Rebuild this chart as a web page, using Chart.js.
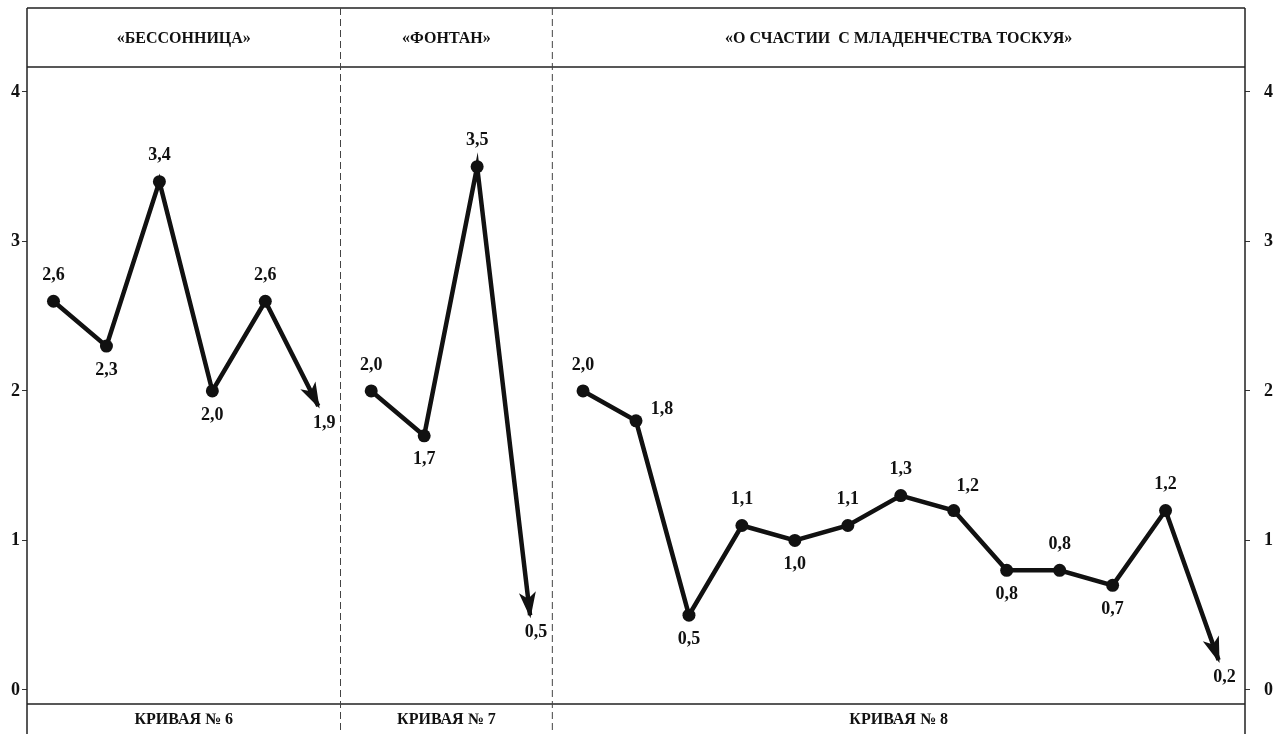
<!DOCTYPE html>
<html>
<head>
<meta charset="utf-8">
<script src="https://cdn.jsdelivr.net/npm/chart.js@4"></script>
<style>
  body { margin: 0; background: #fff; }
  #wrap { width: 1278px; height: 734px; }
</style>
</head>
<body>
<div id="wrap"><canvas id="curves" width="1278" height="734"></canvas></div>
<script>
// values
var curve6 = [2.6, 2.3, 3.4, 2.0, 2.6, 1.9];
var curve7 = [2.0, 1.7, 3.5, 0.5];
var curve8 = [2.0, 1.8, 0.5, 1.1, 1.0, 1.1, 1.3, 1.2, 0.8, 0.8, 0.7, 1.2, 0.2];
var titles = ['«БЕССОННИЦА»', '«ФОНТАН»', '«О СЧАСТИИ  С МЛАДЕНЧЕСТВА ТОСКУЯ»'];
var footers = ['КРИВАЯ № 6', 'КРИВАЯ № 7', 'КРИВАЯ № 8'];
var yTicks = [0, 1, 2, 3, 4];
// where each value label sits: a = above, b = below, r = right, ar = above right, t = arrow tip
var place6 = ['a', 'b', 'a', 'b', 'a', 't'];
var place7 = ['a', 'b', 'a', 't'];
var place8 = ['a', 'r', 'b', 'a', 'b', 'a', 'a', 'ar', 'b', 'a', 'b', 'a', 't'];

var curves = [curve6, curve7, curve8];
var places = [place6, place7, place8];

// one category slot per reading, the three curves side by side
var categories = [];
var starts = [];
curves.forEach(function (c, i) {
  starts.push(categories.length);
  c.forEach(function (v, j) { categories.push((i + 6) + '-' + (j + 1)); });
});

var datasets = curves.map(function (c, i) {
  var data = categories.map(function () { return null; });
  c.forEach(function (v, j) { data[starts[i] + j] = v; });
  var radius = data.map(function (v, k) { return k === starts[i] + c.length - 1 ? 0 : 6.5; });
  return {
    label: footers[i],
    data: data,
    borderColor: '#111',
    backgroundColor: '#111',
    borderWidth: 4.5,
    pointRadius: radius,
    pointHoverRadius: radius,
    pointBorderWidth: 0,
    tension: 0,
    spanGaps: false
  };
});

function fmt(v) { return v.toFixed(1).replace('.', ','); }

var SERIF = '"Liberation Serif", "DejaVu Serif", serif';

var decor = {
  id: 'decor',
  afterDatasetsDraw: function (chart) {
    var ctx = chart.ctx;
    var a = chart.chartArea;
    var xs = chart.scales.x;

    // section borders, a bit closer to the end of the earlier curve
    var bounds = [a.left];
    for (var i = 0; i < curves.length - 1; i++) {
      var lastX = xs.getPixelForValue(starts[i] + curves[i].length - 1);
      var nextX = xs.getPixelForValue(starts[i + 1]);
      bounds.push(lastX + (nextX - lastX) * 0.42);
    }
    bounds.push(a.right);

    ctx.save();
    // frame
    ctx.strokeStyle = '#222';
    ctx.lineWidth = 1.5;
    ctx.beginPath();
    ctx.moveTo(a.left, 8); ctx.lineTo(a.right, 8);
    ctx.moveTo(a.left, a.top); ctx.lineTo(a.right, a.top);
    ctx.moveTo(a.left, a.bottom); ctx.lineTo(a.right, a.bottom);
    ctx.moveTo(a.left, 8); ctx.lineTo(a.left, chart.height);
    ctx.moveTo(a.right, 8); ctx.lineTo(a.right, chart.height);
    ctx.stroke();

    // dashed separators
    ctx.strokeStyle = '#444';
    ctx.lineWidth = 1;
    ctx.setLineDash([7, 4]);
    ctx.beginPath();
    for (var k = 1; k < bounds.length - 1; k++) {
      ctx.moveTo(bounds[k], 8); ctx.lineTo(bounds[k], chart.height);
    }
    ctx.stroke();
    ctx.setLineDash([]);

    // titles and footers
    ctx.fillStyle = '#111';
    ctx.textAlign = 'center';
    ctx.textBaseline = 'middle';
    ctx.font = 'bold 16px ' + SERIF;
    for (var t = 0; t < titles.length; t++) {
      var cx = (bounds[t] + bounds[t + 1]) / 2;
      ctx.fillText(titles[t], cx, (8 + a.top) / 2 + 1);
      ctx.fillText(footers[t], cx, (a.bottom + chart.height) / 2 + 1);
    }

    // arrowheads and value labels
    ctx.font = 'bold 18px ' + SERIF;
    chart.data.datasets.forEach(function (ds, i) {
      var meta = chart.getDatasetMeta(i);
      var s = starts[i];
      var n = curves[i].length;
      var tip = meta.data[s + n - 1];
      var prev = meta.data[s + n - 2];
      var dx = tip.x - prev.x, dy = tip.y - prev.y;
      var len = Math.sqrt(dx * dx + dy * dy);
      var ux = dx / len, uy = dy / len;
      var px = tip.x + ux * 3, py = tip.y + uy * 3;
      var L = 26, W = 8.5;
      ctx.beginPath();
      ctx.moveTo(px, py);
      ctx.lineTo(px - ux * L - uy * W, py - uy * L + ux * W);
      ctx.lineTo(px - ux * L * 0.75, py - uy * L * 0.75);
      ctx.lineTo(px - ux * L + uy * W, py - uy * L - ux * W);
      ctx.closePath();
      ctx.fill();

      for (var j = 0; j < n; j++) {
        var p = meta.data[s + j];
        var pos = places[i][j];
        var lx = p.x, ly = p.y;
        if (pos === 'a') { ly -= 26; }
        else if (pos === 'b') { ly += 24; }
        else if (pos === 'r') { lx += 26; ly -= 12; }
        else if (pos === 'ar') { lx += 14; ly -= 24; }
        else if (pos === 't') { lx += 6; ly += 17; }
        ctx.fillText(fmt(curves[i][j]), lx, ly);
      }
    });
    ctx.restore();
  }
};

function yAxis(position, width, pad) {
  return {
    type: 'linear',
    position: position,
    min: -0.094,
    max: 4.167,
    afterBuildTicks: function (s) { s.ticks = yTicks.map(function (v) { return { value: v }; }); },
    afterFit: function (s) { s.width = width; },
    border: { display: false },
    grid: { drawOnChartArea: false, tickLength: 5, color: '#333', lineWidth: 1 },
    ticks: {
      color: '#111',
      padding: pad,
      font: { family: SERIF, size: 18, weight: 'bold' }
    }
  };
}

var ctx = document.getElementById('curves').getContext('2d');
var myChart = new Chart(ctx, {
  type: 'line',
  data: { labels: categories, datasets: datasets },
  options: {
    responsive: false,
    animation: false,
    layout: { padding: { top: 67, bottom: 30, left: 0, right: 0 } },
    plugins: { legend: { display: false }, tooltip: { enabled: false } },
    scales: {
      x: { type: 'category', offset: true, display: false },
      y: yAxis('left', 27, 2),
      y2: yAxis('right', 33, 14)
    }
  },
  plugins: [decor]
});
</script>
</body>
</html>
